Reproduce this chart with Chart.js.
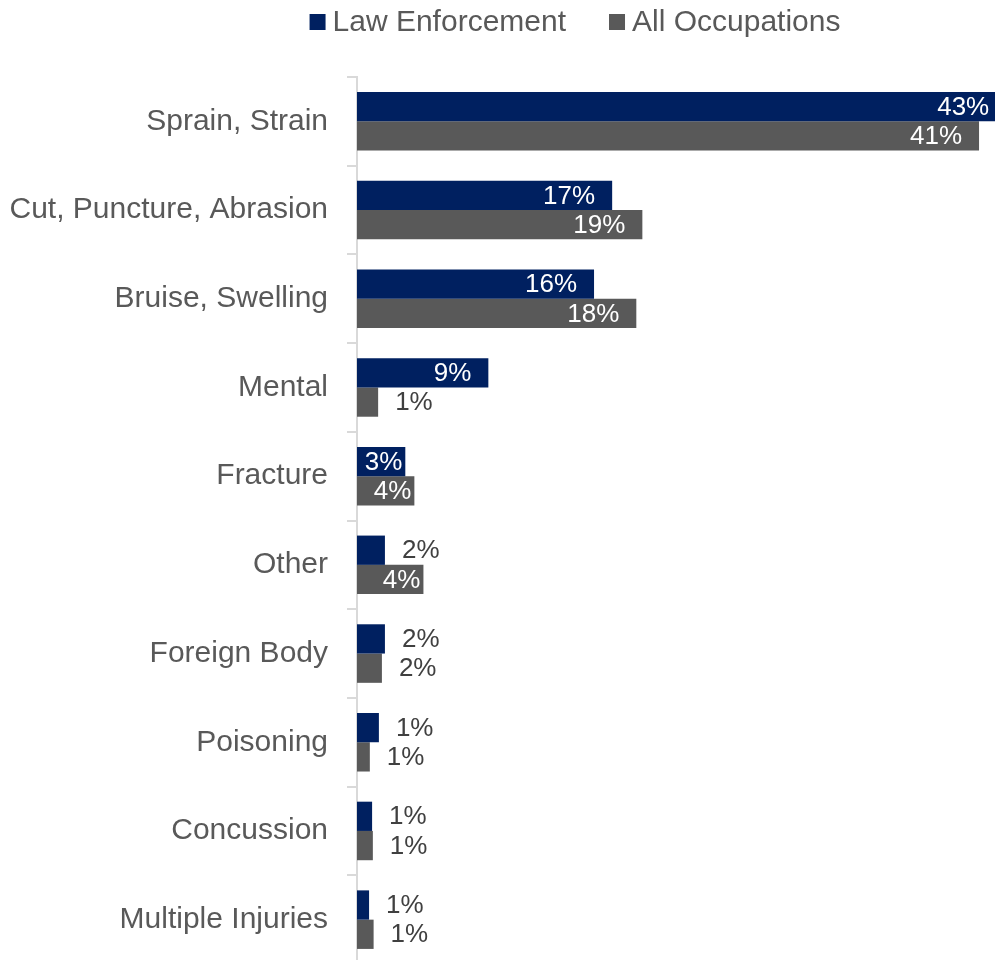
<!DOCTYPE html>
<html>
<head>
<meta charset="utf-8">
<script src="https://cdn.jsdelivr.net/npm/chart.js@4.4.0/dist/chart.umd.min.js"></script>
<style>
  html, body { margin: 0; padding: 0; overflow: hidden; background: #ffffff; }
  canvas { display: block; }
</style>
</head>
<body>
<canvas id="myChart" width="1010" height="964"></canvas>
<script>
const categories = ['Sprain, Strain', 'Cut, Puncture, Abrasion', 'Bruise, Swelling', 'Mental', 'Fracture',
                    'Other', 'Foreign Body', 'Poisoning', 'Concussion', 'Multiple Injuries'];
const seriesNames = ['Law Enforcement', 'All Occupations'];
const lawEnforcement = [43.0, 16.9, 15.7, 8.7, 3.2, 1.85, 1.85, 1.45, 1.0, 0.8];
const allOccupations = [41.2, 18.9, 18.5, 1.4, 3.8, 4.4, 1.65, 0.85, 1.05, 1.1];
const lawEnforcementLabels = ['43%', '17%', '16%', '9%', '3%', '2%', '2%', '1%', '1%', '1%'];
const allOccupationsLabels = ['41%', '19%', '18%', '1%', '4%', '4%', '2%', '1%', '1%', '1%'];
const xMax = 43.25;

const FONT = 'Liberation Sans';
const legendCenterX = 575;

// value labels: inside the bar end when they fit, otherwise just outside
const barLabels = {
    id: 'barLabels',
    afterDatasetsDraw(chart) {
        const ctx = chart.ctx;
        ctx.save();
        ctx.font = '26px "' + FONT + '"';
        ctx.textBaseline = 'middle';
        chart.data.datasets.forEach((ds, i) => {
            const meta = chart.getDatasetMeta(i);
            meta.data.forEach((bar, j) => {
                const text = ds.valueLabels[j];
                const w = ctx.measureText(text).width;
                const barWidth = bar.x - bar.base;
                if (barWidth > w + 8) {
                    const pad = barWidth > 100 ? 17 : 3;
                    ctx.fillStyle = '#ffffff';
                    ctx.textAlign = 'right';
                    ctx.fillText(text, bar.x - pad, bar.y + 1);
                } else {
                    ctx.fillStyle = '#404040';
                    ctx.textAlign = 'left';
                    ctx.fillText(text, bar.x + 17, bar.y + 1);
                }
            });
        });
        ctx.restore();
    }
};

// legend drawn on top, centred a bit right of the canvas middle
const topLegend = {
    id: 'topLegend',
    afterDraw(chart) {
        const ctx = chart.ctx;
        ctx.save();
        ctx.font = '30px "' + FONT + '"';
        const box = 16, gap = 7, spacing = 43, y = 22;
        const items = chart.data.datasets.map(ds => ({
            text: ds.label,
            color: ds.backgroundColor,
            w: ctx.measureText(ds.label).width
        }));
        const total = items.reduce((s, it) => s + box + gap + it.w, 0) + spacing * (items.length - 1);
        let x = legendCenterX - total / 2;
        items.forEach(it => {
            ctx.fillStyle = it.color;
            ctx.fillRect(x, y - box / 2, box, box);
            x += box + gap;
            ctx.fillStyle = '#595959';
            ctx.textAlign = 'left';
            ctx.textBaseline = 'middle';
            ctx.fillText(it.text, x, y + 1);
            x += it.w + spacing;
        });
        ctx.restore();
    }
};

const ctx = document.getElementById('myChart').getContext('2d');
const chart = new Chart(ctx, {
    type: 'bar',
    data: {
        labels: categories,
        datasets: [{
            label: seriesNames[0],
            data: lawEnforcement,
            valueLabels: lawEnforcementLabels,
            backgroundColor: '#002060',
            categoryPercentage: 0.66,
            barPercentage: 1.0
        }, {
            label: seriesNames[1],
            data: allOccupations,
            valueLabels: allOccupationsLabels,
            backgroundColor: '#595959',
            categoryPercentage: 0.66,
            barPercentage: 1.0
        }]
    },
    options: {
        indexAxis: 'y',
        responsive: false,
        animation: false,
        layout: { padding: { top: 77, left: 0, right: 0, bottom: 0 } },
        plugins: {
            legend: { display: false },
            tooltip: { enabled: false }
        },
        scales: {
            x: {
                display: false,
                min: 0,
                max: xMax
            },
            y: {
                afterFit(scale) {
                    scale.width = 357;
                    // don't let the tick labels reserve space above/below the plot
                    scale.paddingTop = 0;
                    scale.paddingBottom = 0;
                },
                grid: {
                    drawOnChartArea: false,
                    tickLength: 10,
                    color: '#d9d9d9',
                    lineWidth: 2,
                    offset: true
                },
                border: { color: '#d9d9d9', width: 2 },
                ticks: {
                    color: '#595959',
                    font: { family: FONT, size: 30 },
                    padding: 19
                }
            }
        }
    },
    plugins: [barLabels, topLegend]
});
</script>
</body>
</html>
